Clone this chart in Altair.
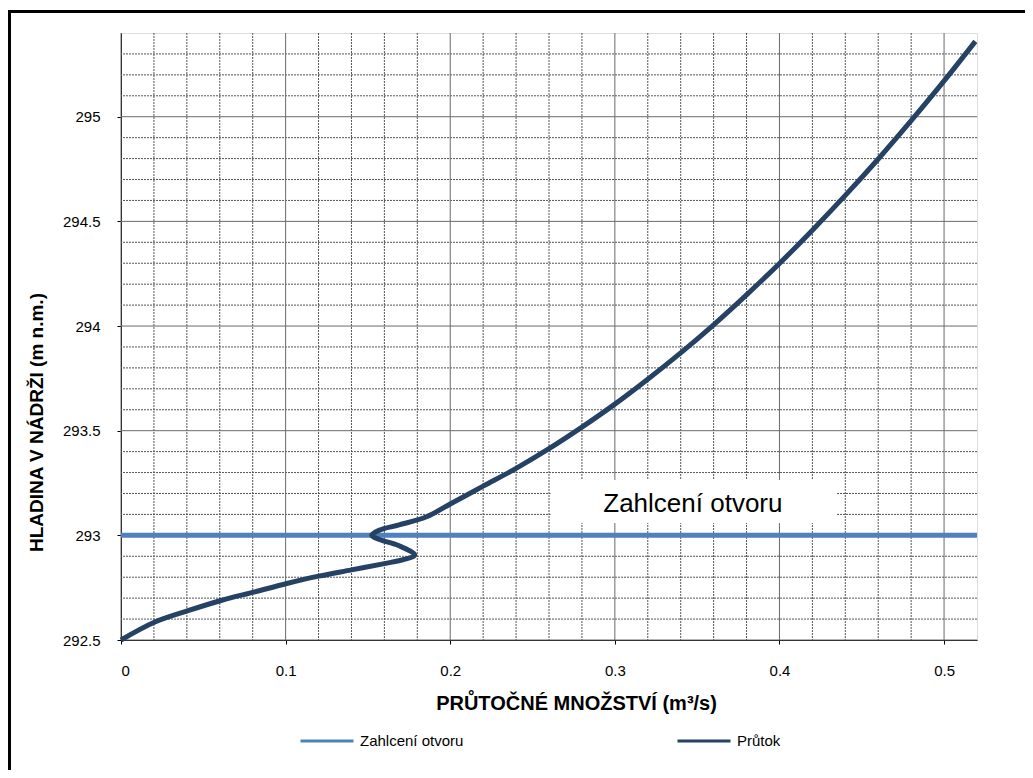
import altair as alt
import pandas as pd

# Flow curve (Průtok): discharge Q [m3/s] vs water level H [m n.m.]
q_values = [0.0, 0.0206, 0.0407, 0.0613, 0.0813, 0.1007, 0.12, 0.14, 0.16, 0.172,
            0.1784, 0.169, 0.157, 0.1523, 0.157, 0.169, 0.186, 0.20, 0.22, 0.24,
            0.26, 0.28, 0.30, 0.32, 0.34, 0.36, 0.38, 0.40, 0.42, 0.44,
            0.46, 0.48, 0.50, 0.519]
h_values = [292.5, 292.586, 292.64, 292.69, 292.73, 292.77, 292.805, 292.835, 292.865, 292.885,
            292.906, 292.95, 292.98, 293.0, 293.025, 293.05, 293.09, 293.15, 293.235, 293.32,
            293.414, 293.517, 293.627, 293.746, 293.872, 294.006, 294.149, 294.299, 294.458, 294.624,
            294.798, 294.981, 295.171, 295.36]

# Clogging level (Zahlcení otvoru)
clog_q = [0.0, 0.52]
clog_h = [293.0, 293.0]

series_names = ["Zahlcení otvoru", "Průtok"]
series_colors = ["#4F81BD", "#254265"]

x_major = [0.0, 0.1, 0.2, 0.3, 0.4, 0.5]
x_minor = [0.02, 0.04, 0.06, 0.08, 0.12, 0.14, 0.16, 0.18, 0.22, 0.24, 0.26, 0.28,
           0.32, 0.34, 0.36, 0.38, 0.42, 0.44, 0.46, 0.48]
y_major = [292.5, 293.0, 293.5, 294.0, 294.5, 295.0]
y_minor = [292.6, 292.7, 292.8, 292.9, 293.1, 293.2, 293.3, 293.4, 293.6, 293.7, 293.8,
           293.9, 294.1, 294.2, 294.3, 294.4, 294.6, 294.7, 294.8, 294.9, 295.1, 295.2,
           295.3]

# annotation label and its white box
note_text = ["Zahlcení otvoru"]
note_q = [0.3474]
note_h = [293.113]
box_q = [0.261]
box_q2 = [0.4345]
box_h = [293.059]
box_h2 = [293.265]

x_scale = alt.Scale(domain=[0, 0.52], nice=False, zero=False)
y_scale = alt.Scale(domain=[292.5, 295.4], nice=False, zero=False)
color_scale = alt.Scale(domain=series_names, range=series_colors)

curve_df = pd.DataFrame({"Q": q_values, "H": h_values, "i": list(range(len(q_values))),
                         "series": "Průtok"})
clog_df = pd.DataFrame({"Q": clog_q, "H": clog_h, "i": [0, 1], "series": "Zahlcení otvoru"})

x_axis = alt.Axis(values=x_major, format="~g", grid=False, domainColor="#000",
                  tickColor="#000", tickSize=4, labelFontSize=15, labelPadding=19,
                  labelColor="#000", labelFont="Liberation Sans",
                  title="PRŮTOČNÉ MNOŽSTVÍ (m³/s)", titleFont="Liberation Sans",
                  titleFontSize=20, titleFontWeight="bold", titleColor="#000",
                  titleX=455, titleY=63, titleBaseline="middle", titleAnchor="start",
                  titleAlign="center")
y_axis = alt.Axis(values=y_major, format="~g", grid=False, domainColor="#000",
                  tickColor="#000", tickSize=4, labelFontSize=15, labelPadding=17,
                  labelColor="#000", labelFont="Liberation Sans",
                  title="HLADINA V NÁDRŽI (m n.m.)", titleFont="Liberation Sans",
                  titleFontSize=19, titleFontWeight="bold", titleColor="#000",
                  titleX=-85, titleY=389, titleBaseline="middle", titleAlign="center",
                  titleAngle=270)


def X(field):
    return alt.X(field, scale=x_scale, axis=x_axis)


def Y(field):
    return alt.Y(field, scale=y_scale, axis=y_axis)


minor_x = alt.Chart(pd.DataFrame({"v": x_minor})).mark_rule(
    color="#555", strokeWidth=1, strokeDash=[2, 1]).encode(x=X("v:Q"))
minor_y = alt.Chart(pd.DataFrame({"v": y_minor})).mark_rule(
    color="#555", strokeWidth=1, strokeDash=[2, 1]).encode(y=Y("v:Q"))
major_x = alt.Chart(pd.DataFrame({"v": x_major})).mark_rule(
    color="#6a6a6a", strokeWidth=1).encode(x=X("v:Q"))
major_y = alt.Chart(pd.DataFrame({"v": y_major})).mark_rule(
    color="#6a6a6a", strokeWidth=1).encode(y=Y("v:Q"))

box = alt.Chart(pd.DataFrame({"q": box_q, "q2": box_q2, "h": box_h, "h2": box_h2})).mark_rect(
    color="white").encode(x=X("q:Q"), x2="q2:Q", y=Y("h:Q"), y2="h2:Q")

note = alt.Chart(pd.DataFrame({"q": note_q, "h": note_h, "t": note_text})).mark_text(
    font="Liberation Sans", fontSize=26, color="#000", align="center",
    baseline="alphabetic").encode(x=X("q:Q"), y=Y("h:Q"), text="t:N")

legend = alt.Legend(title=None, orient="none", legendX=178, legendY=680, direction="horizontal",
                    columns=2, columnPadding=207, symbolType="stroke", symbolSize=2809,
                    symbolStrokeWidth=3, labelFontSize=15, labelFont="Liberation Sans",
                    labelColor="#000", labelOffset=5, padding=0)

clog_line = alt.Chart(clog_df).mark_line(strokeWidth=5).encode(
    x=X("Q:Q"), y=Y("H:Q"), order="i:Q",
    color=alt.Color("series:N", scale=color_scale, legend=legend))

curve = alt.Chart(curve_df).mark_line(strokeWidth=5, interpolate="catmull-rom").encode(
    x=X("Q:Q"), y=Y("H:Q"), order="i:Q",
    color=alt.Color("series:N", scale=color_scale, legend=legend))

frame = alt.Chart(pd.DataFrame({"a": [0]})).mark_rect(
    filled=False, stroke="#000", strokeWidth=3).encode(
    x=alt.value(-111.5), x2=alt.value(1100), y=alt.value(-21.5), y2=alt.value(900))

chart = alt.layer(minor_x, minor_y, major_x, major_y, box, note, clog_line, curve, frame).properties(
    width=856, height=607,
    autosize=alt.AutoSizeParams(type="none"),
    padding={"left": 113, "top": 25, "right": 48, "bottom": 130},
).configure_view(stroke="#000", strokeWidth=1).configure(background="white")

chart.save("out.html", embed_options={"renderer": "svg", "actions": False})
